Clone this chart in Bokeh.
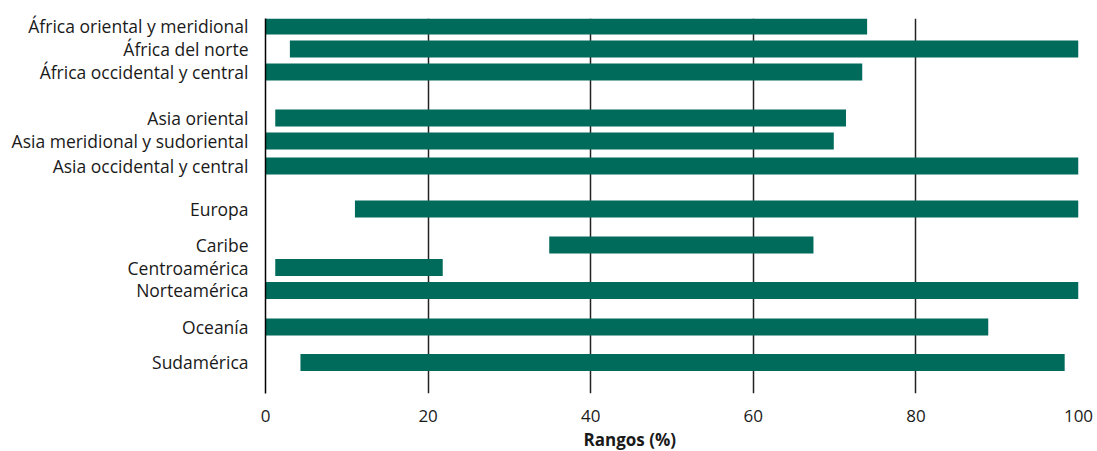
from bokeh.plotting import figure
from bokeh.models import Range1d, FixedTicker, Title
from bokeh.embed import file_html
from bokeh.resources import INLINE

# --- data ---
regions = [
    "África oriental y meridional",
    "África del norte",
    "África occidental y central",
    "Asia oriental",
    "Asia meridional y sudoriental",
    "Asia occidental y central",
    "Europa",
    "Caribe",
    "Centroamérica",
    "Norteamérica",
    "Oceanía",
    "Sudamérica",
]
range_low = [0, 3.0, 0, 1.2, 0, 0, 11.0, 34.9, 1.2, 0, 0, 4.3]
range_high = [74.0, 100, 73.4, 71.4, 69.9, 100, 100, 67.4, 21.8, 100, 88.9, 98.3]
x_ticks = [0, 20, 40, 60, 80, 100]
x_title = "Rangos (%)"

# --- layout (row slots, top to bottom, with group gaps) ---
row_pos = [0, 1, 2, 4, 5, 6.09, 7.96, 9.52, 10.5, 11.5, 13.09, 14.63]

GREEN = "#006b5b"
TEXT = "#1a1a1a"
FONT = "Open Sans"

p = figure(
    width=1097, height=451,
    x_range=Range1d(0, 100),
    y_range=Range1d(15.98, -0.33),
    output_backend="svg", toolbar_location=None,
    min_border_left=265, min_border_right=19,
    min_border_top=18, min_border_bottom=58,
)
p.outline_line_color = None
p.background_fill_color = "white"
p.border_fill_color = "white"

p.hbar(y=row_pos, left=range_low, right=range_high, height=0.74,
       fill_color=GREEN, line_color=None)

# x axis
p.xaxis.ticker = FixedTicker(ticks=x_ticks)
p.xaxis.axis_line_color = None
p.xaxis.major_tick_line_color = None
p.xaxis.minor_tick_line_color = None
p.xaxis.major_label_standoff = 10
p.xaxis.major_label_text_font = FONT
p.xaxis.major_label_text_font_size = "17px"
p.xaxis.major_label_text_color = TEXT

# axis title (offset left of centre, as in the original)
p.add_layout(Title(text=x_title, align="left", offset=318, standoff=2,
                   text_font=FONT, text_font_size="17px",
                   text_font_style="bold", text_color=TEXT), "below")

# y axis
p.yaxis.ticker = FixedTicker(ticks=row_pos)
p.yaxis.major_label_overrides = {pos: name for pos, name in zip(row_pos, regions)}
p.yaxis.axis_line_color = "black"
p.yaxis.axis_line_width = 1.5
p.yaxis.major_tick_line_color = None
p.yaxis.minor_tick_line_color = None
p.yaxis.major_label_standoff = 11
p.yaxis.major_label_text_font = FONT
p.yaxis.major_label_text_font_size = "17.5px"
p.yaxis.major_label_text_color = TEXT

# grids
p.ygrid.grid_line_color = None
p.xgrid.ticker = FixedTicker(ticks=x_ticks[1:])
p.xgrid.grid_line_color = "#222222"
p.xgrid.grid_line_width = 1.5

open("out.html", "w").write(file_html(p, INLINE))
